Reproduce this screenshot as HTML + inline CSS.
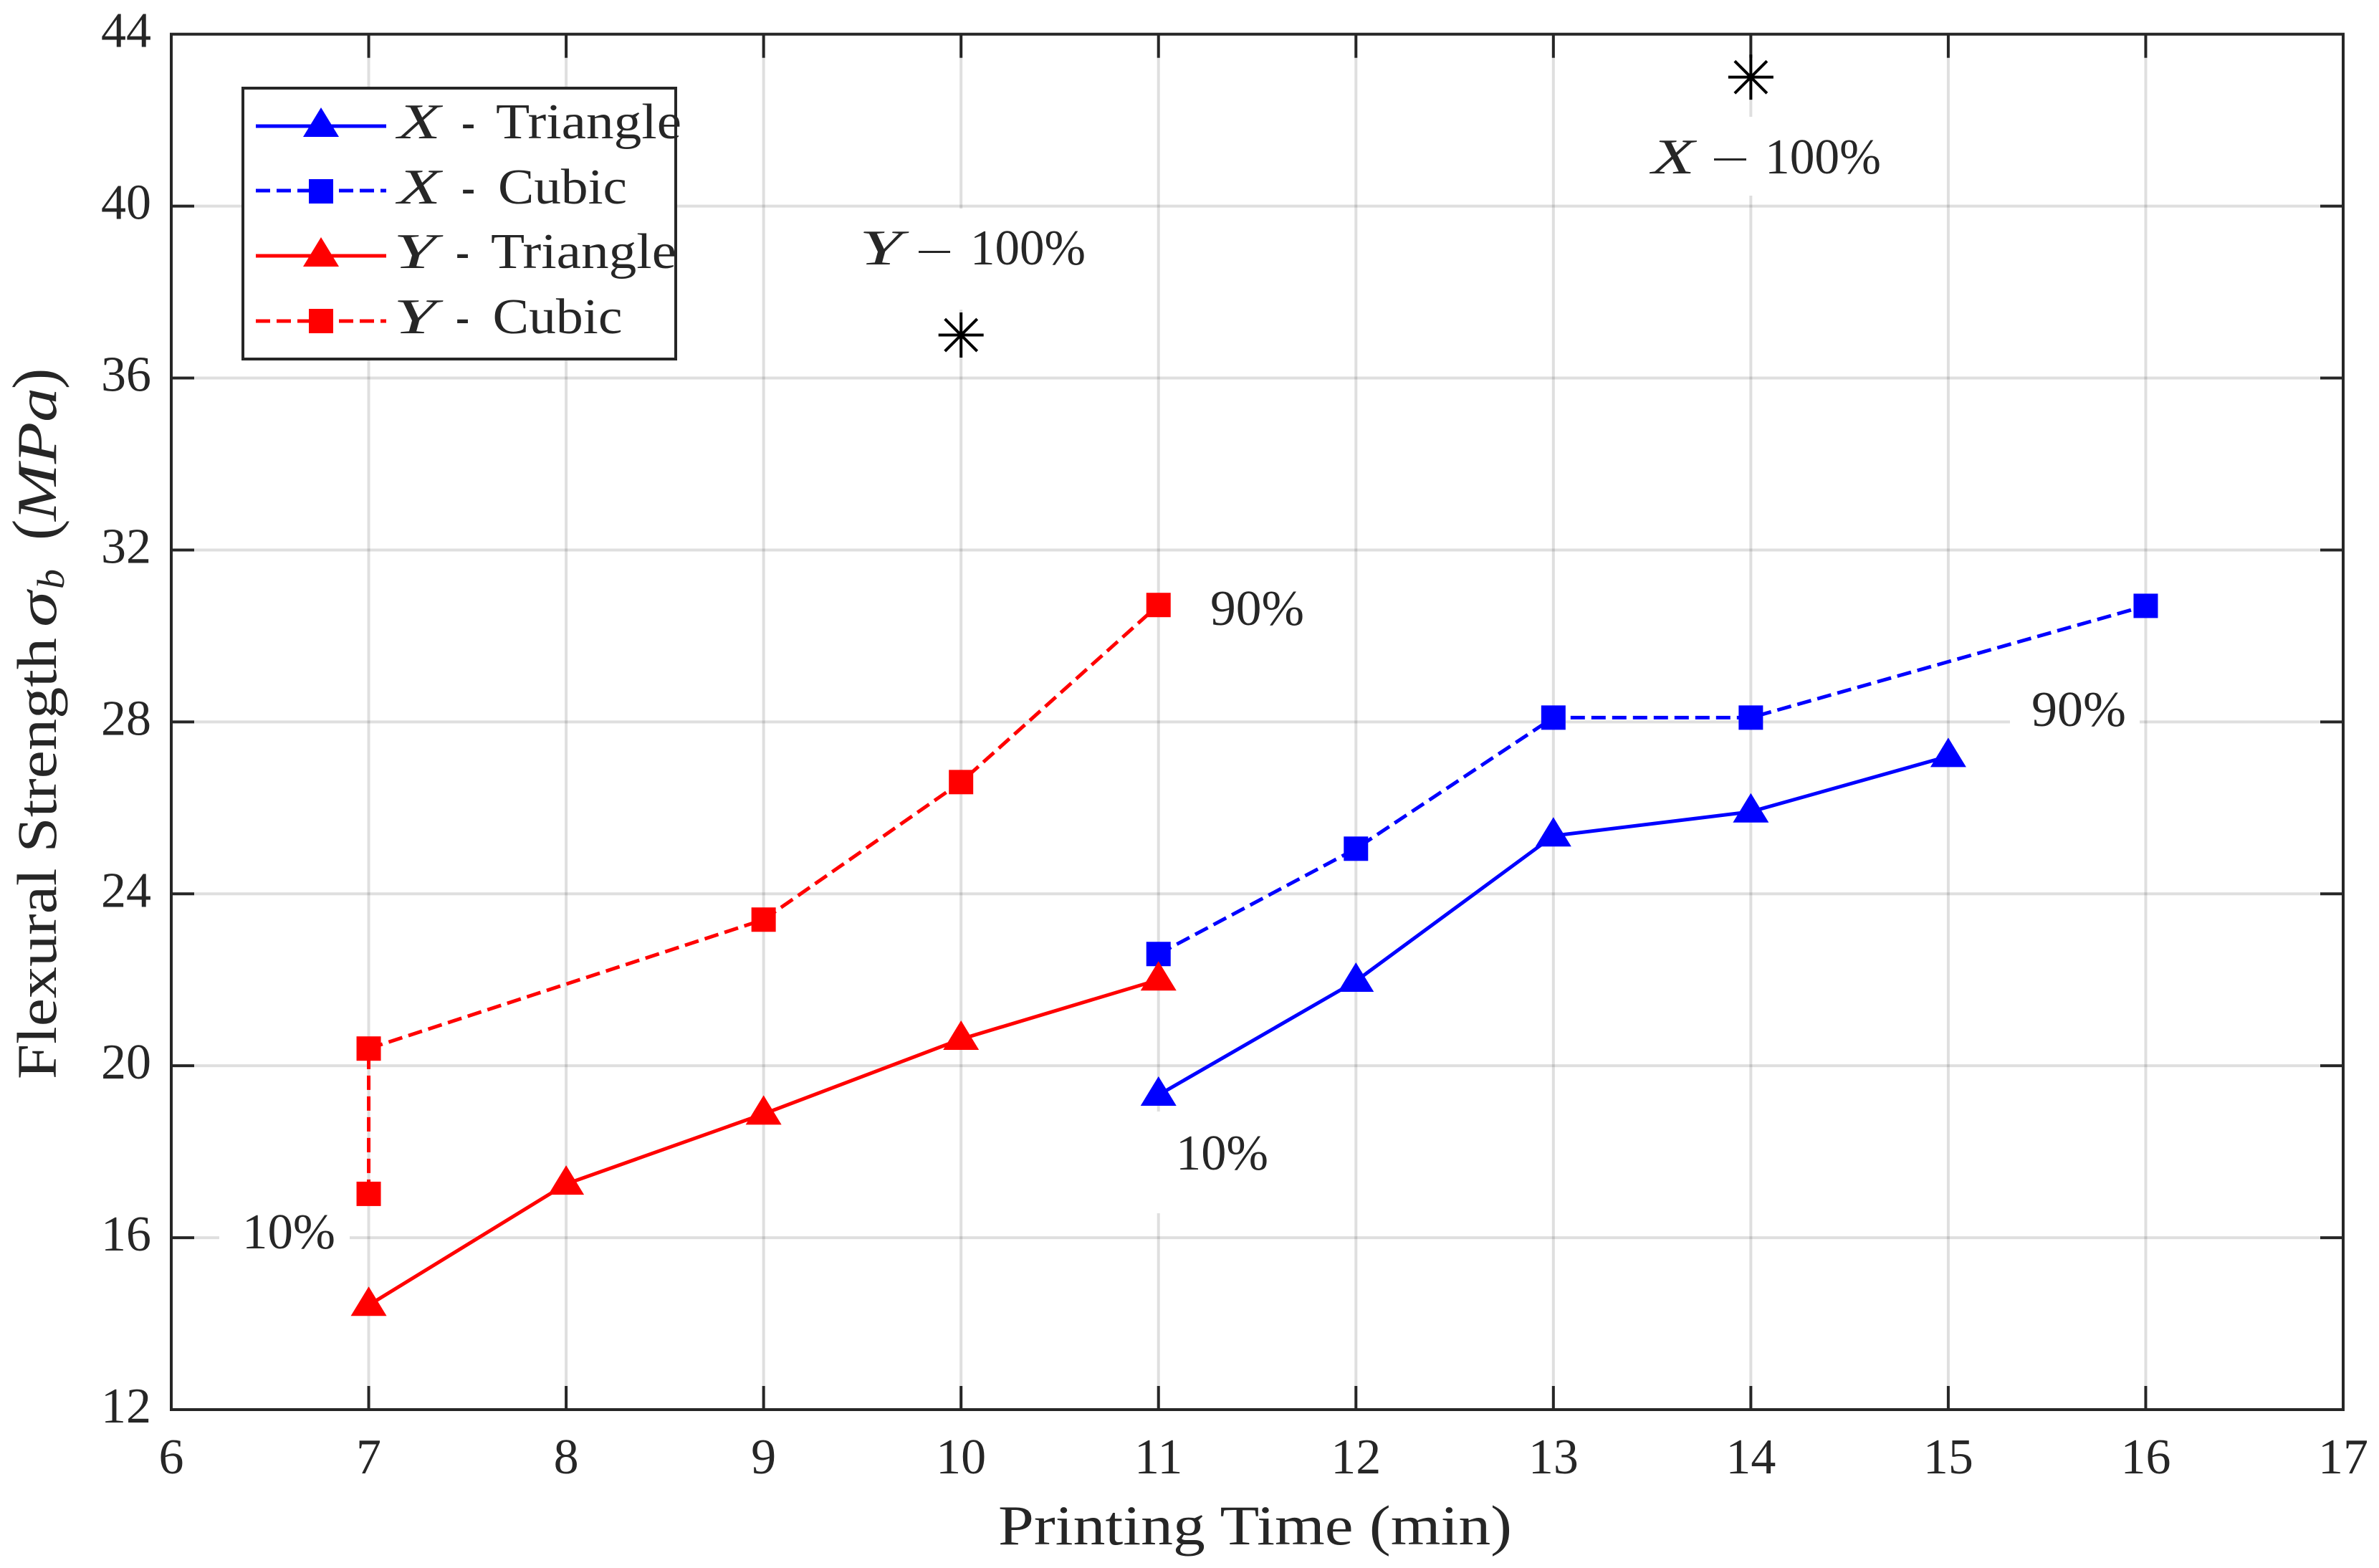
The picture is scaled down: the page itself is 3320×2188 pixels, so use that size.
<!DOCTYPE html>
<html lang="en">
<head>
<meta charset="utf-8">
<title>Flexural Strength vs Printing Time</title>
<style>
html,body{margin:0;padding:0;background:#fff;}
svg{display:block;}
text{font-family:"Liberation Serif",serif;fill:#262626;}
.t{font-size:70px;}
.i{font-style:italic;}
</style>
</head>
<body>
<svg id="chart" xmlns="http://www.w3.org/2000/svg" width="3320" height="2188" viewBox="0 0 3320 2188">
  <rect x="0" y="0" width="3320" height="2188" fill="#fff"/>
  <g id="grid"></g>
  <g id="ticks"></g>
  <g id="series"></g>

  <g>
    <rect x="2300" y="163" width="330" height="110" fill="#fff"/>
    <rect x="1200" y="291" width="320" height="141" fill="#fff"/>
    <rect x="1609" y="1551" width="165" height="142" fill="#fff"/>
    <rect x="306" y="1690" width="182" height="70" fill="#fff"/>
    <rect x="2805" y="980" width="181" height="50" fill="#fff"/>

    <g>
      <text class="t i" x="2305" y="242" textLength="60" lengthAdjust="spacingAndGlyphs">X</text>
      <rect x="2392" y="221" width="45" height="3" fill="#262626"/>
      <text class="t" x="2463" y="242" textLength="162" lengthAdjust="spacingAndGlyphs">100%</text>
    </g>
    <g>
      <text class="t i" x="1199" y="369" textLength="60" lengthAdjust="spacingAndGlyphs">Y</text>
      <rect x="1282" y="350" width="44" height="3" fill="#262626"/>
      <text class="t" x="1354" y="369" textLength="161" lengthAdjust="spacingAndGlyphs">100%</text>
    </g>
    <text class="t" x="1689" y="872" textLength="131" lengthAdjust="spacingAndGlyphs">90%</text>
    <text class="t" x="2835" y="1013" textLength="132" lengthAdjust="spacingAndGlyphs">90%</text>
    <text class="t" x="1641" y="1632" textLength="129" lengthAdjust="spacingAndGlyphs">10%</text>
    <text class="t" x="338" y="1742" textLength="130" lengthAdjust="spacingAndGlyphs">10%</text>
  </g>

  <rect x="239" y="47.7" width="3031" height="1919.3" fill="none" stroke="#262626" stroke-width="4"/>
  <g id="tick-labels"></g>

  <text x="1393" y="2155" font-size="78" textLength="717" lengthAdjust="spacingAndGlyphs">Printing Time (min)</text>

  <g transform="translate(78,1506) rotate(-90)">
    <text font-size="78" x="0" y="0" textLength="616" lengthAdjust="spacingAndGlyphs">Flexural Strength</text>
    <text font-size="78" class="i" x="631" y="0" textLength="50" lengthAdjust="spacingAndGlyphs">σ</text>
    <text font-size="54" class="i" x="684" y="11" textLength="28" lengthAdjust="spacingAndGlyphs">b</text>
    <text font-size="88" x="752" y="0">(</text>
    <text font-size="78" class="i" x="779" y="0" textLength="186" lengthAdjust="spacingAndGlyphs">MPa</text>
    <text font-size="88" x="963" y="0">)</text>
  </g>

  <g>
    <rect x="339" y="123" width="604" height="378" fill="#fff" stroke="#262626" stroke-width="4"/>
    <g>
      <line x1="357" y1="176" x2="539" y2="176" stroke="#0000ff" stroke-width="5"/>
      <polygon points="448,150 423,191 473,191" fill="#0000ff"/>
      <text class="t i" x="555" y="193" textLength="60" lengthAdjust="spacingAndGlyphs">X</text>
      <text class="t" x="644" y="193" textLength="19" lengthAdjust="spacingAndGlyphs">-</text>
      <text class="t" x="692" y="193" textLength="259" lengthAdjust="spacingAndGlyphs">Triangle</text>
    </g>
    <g>
      <line x1="357" y1="266" x2="539" y2="266" stroke="#0000ff" stroke-width="5" stroke-dasharray="20 9"/>
      <rect x="431" y="250" width="34" height="34" fill="#0000ff"/>
      <text class="t i" x="555" y="284" textLength="60" lengthAdjust="spacingAndGlyphs">X</text>
      <text class="t" x="644" y="284" textLength="19" lengthAdjust="spacingAndGlyphs">-</text>
      <text class="t" x="695" y="284" textLength="180" lengthAdjust="spacingAndGlyphs">Cubic</text>
    </g>
    <g>
      <line x1="357" y1="357" x2="539" y2="357" stroke="#ff0000" stroke-width="5"/>
      <polygon points="448,331 423,372 473,372" fill="#ff0000"/>
      <text class="t i" x="549" y="374" textLength="60" lengthAdjust="spacingAndGlyphs">Y</text>
      <text class="t" x="636" y="374" textLength="19" lengthAdjust="spacingAndGlyphs">-</text>
      <text class="t" x="685" y="374" textLength="259" lengthAdjust="spacingAndGlyphs">Triangle</text>
    </g>
    <g>
      <line x1="357" y1="448" x2="539" y2="448" stroke="#ff0000" stroke-width="5" stroke-dasharray="20 9"/>
      <rect x="431" y="431" width="34" height="34" fill="#ff0000"/>
      <text class="t i" x="549" y="465" textLength="60" lengthAdjust="spacingAndGlyphs">Y</text>
      <text class="t" x="636" y="465" textLength="19" lengthAdjust="spacingAndGlyphs">-</text>
      <text class="t" x="687.5" y="465" textLength="181" lengthAdjust="spacingAndGlyphs">Cubic</text>
    </g>
  </g>
</svg>
<script>
var xTickLabels = ['6','7','8','9','10','11','12','13','14','15','16','17'];
var yTickLabels = ['12','16','20','24','28','32','36','40','44'];

var xTriangleTimes = [11,12,13,14,15];
var xTriangleStrength = [19.32,21.97,25.35,25.91,27.2];
var xCubicTimes = [11,12,13,14,16];
var xCubicStrength = [22.6,25.05,28.1,28.1,30.7];
var yTriangleTimes = [7,8,9,10,11];
var yTriangleStrength = [14.43,17.25,18.88,20.62,22];
var yCubicTimes = [7,7,9,10,11];
var yCubicStrength = [17.02,20.4,23.4,26.6,30.72];
var solidTimes = [10,14];
var solidStrength = [37,43];

var NS = 'http://www.w3.org/2000/svg';
var xMin = 6, xMax = 17, yMin = 12, yMax = 44;
var plotLeft = 239, plotRight = 3270, plotTop = 47.7, plotBottom = 1967;

function xPos(v){ return plotLeft + (v - xMin) / (xMax - xMin) * (plotRight - plotLeft); }
function yPos(v){ return plotBottom - (v - yMin) / (yMax - yMin) * (plotBottom - plotTop); }

function make(tag, parent, attrs){
  var node = document.createElementNS(NS, tag);
  for (var k in attrs) node.setAttribute(k, attrs[k]);
  parent.appendChild(node);
  return node;
}

var grid = document.getElementById('grid');
var ticks = document.getElementById('ticks');
var tickLabels = document.getElementById('tick-labels');
var series = document.getElementById('series');
var el;

xTickLabels.forEach(function(lab){
  var v = Number(lab), x = xPos(v);
  if (v > xMin && v < xMax) {
    el = make('line', grid, {x1:x, y1:plotTop, x2:x, y2:plotBottom, stroke:'#262626', 'stroke-opacity':0.15, 'stroke-width':4});
    
    
    el = make('line', ticks, {x1:x, y1:plotBottom, x2:x, y2:plotBottom - 33, stroke:'#262626', 'stroke-width':4});
    
    
    el = make('line', ticks, {x1:x, y1:plotTop, x2:x, y2:plotTop + 33, stroke:'#262626', 'stroke-width':4});
    
    
  }
  el = make('text', tickLabels, {x:x, y:2056, 'text-anchor':'middle', 'class':'t'});
  el.textContent = lab;
  
  
});

yTickLabels.forEach(function(lab){
  var v = Number(lab), y = yPos(v);
  if (v > yMin && v < yMax) {
    el = make('line', grid, {x1:plotLeft, y1:y, x2:plotRight, y2:y, stroke:'#262626', 'stroke-opacity':0.15, 'stroke-width':4});
    
    
    el = make('line', ticks, {x1:plotLeft, y1:y, x2:plotLeft + 32, y2:y, stroke:'#262626', 'stroke-width':4});
    
    
    el = make('line', ticks, {x1:plotRight, y1:y, x2:plotRight - 32, y2:y, stroke:'#262626', 'stroke-width':4});
    
    
  }
  el = make('text', tickLabels, {x:211, y:y + 18, 'text-anchor':'end', 'class':'t'});
  el.textContent = lab;
  
  
});

function drawSeries(id, times, values, color, dashed, marker){
  var pts = times.map(function(t, i){ return xPos(t) + ',' + yPos(values[i]); }).join(' ');
  var attrs = {points:pts, fill:'none', stroke:color, 'stroke-width':5, 'stroke-linejoin':'miter'};
  if (dashed) attrs['stroke-dasharray'] = '20 9';
  el = make('polyline', series, attrs);
  
  
  times.forEach(function(t, i){
    var x = xPos(t), y = yPos(values[i]);
    if (marker === 'triangle') {
      el = make('polygon', series, {points:x + ',' + (y - 26) + ' ' + (x - 25) + ',' + (y + 15) + ' ' + (x + 25) + ',' + (y + 15), fill:color});
    } else {
      el = make('rect', series, {x:x - 17, y:y - 17, width:34, height:34, fill:color});
    }
    
    
  });
}

drawSeries('x-cubic', xCubicTimes, xCubicStrength, '#0000ff', true, 'square');
drawSeries('x-triangle', xTriangleTimes, xTriangleStrength, '#0000ff', false, 'triangle');
drawSeries('y-cubic', yCubicTimes, yCubicStrength, '#ff0000', true, 'square');
drawSeries('y-triangle', yTriangleTimes, yTriangleStrength, '#ff0000', false, 'triangle');

solidTimes.forEach(function(t, i){
  var x = xPos(t), y = yPos(solidStrength[i]);
  var d = 'M' + (x - 31.5) + ' ' + y + 'H' + (x + 31.5) +
          'M' + x + ' ' + (y - 31.5) + 'V' + (y + 31.5) +
          'M' + (x - 22.5) + ' ' + (y - 22.5) + 'L' + (x + 22.5) + ' ' + (y + 22.5) +
          'M' + (x - 22.5) + ' ' + (y + 22.5) + 'L' + (x + 22.5) + ' ' + (y - 22.5);
  el = make('path', series, {d:d, fill:'none', stroke:'#000', 'stroke-width':4});
  
  
});
</script>
</body>
</html>
